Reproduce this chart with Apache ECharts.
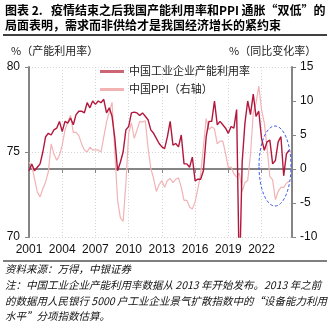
<!DOCTYPE html>
<html>
<head>
<meta charset="utf-8">
<script src="https://cdn.jsdelivr.net/npm/echarts@6/dist/echarts.min.js"></script>
<style>
html,body{margin:0;padding:0;background:#fff;}
#c{width:330px;height:325px;}
</style>
</head>
<body>
<div id="c"></div>
<script>
// ---- data ----
const years = [2001,2002,2003,2004,2005,2006,2007,2008,2009,2010,2011,2012,2013,2014,2015,2016,2017,2018,2019,2020,2021,2022,2023,2024];
const quarters = ['Q1','Q2','Q3','Q4'];
const categories = [];
years.forEach(y => quarters.forEach(q => categories.push(y + q)));
const yearTickLabels = ['2001','2004','2007','2010','2013','2016','2019','2022'];

// 中国工业企业产能利用率 (%), quarterly
const capacityUtil = [
  73.9, 74.3, 73.9, 74.1,
  74.3, 75.0, 75.9, 76.1,
  76.0, 76.3, 76.4, 76.8,
  76.2, 76.8, 76.7, 77.0,
  76.6, 77.2, 77.4, 77.4,
  77.3, 77.9, 77.6, 78.0,
  77.8, 78.0, 77.9, 78.1,
  77.3, 77.6, 77.1, 75.8,
  73.9, 74.4, 75.0, 76.3,
  76.5, 77.3, 77.35, 77.3,
  77.15, 77.3, 77.1, 76.9,
  76.3, 76.1, 75.8, 75.5,
  75.3, 75.2, 75.9, 76.8,
  75.4, 75.5, 75.3, 76.0,
  74.3, 74.3, 74.1, 74.7,
  73.3, 73.4, 73.4, 73.9,
  75.9, 76.8, 76.8, 78.0,
  76.6, 76.8, 76.6, 76.4,
  76.1, 76.5, 76.4, 77.5,
  67.3, 74.4, 76.7, 78.0,
  77.2, 78.4, 77.1, 77.4,
  75.8, 75.1, 75.6, 75.7,
  74.3, 74.5, 75.6, 75.9,
  73.6, 74.9, 75.1, null
];

// 中国PPI 同比 (%), quarterly
const ppi = [
  1.0, 0.5, -1.4, -3.4,
  -4.1, -2.9, -1.9, -0.4,
  3.7, 2.2, 1.3, 2.0,
  3.5, 5.7, 6.9, 7.9,
  5.4, 5.4, 4.9, 3.7,
  2.8, 2.5, 3.2, 2.8,
  2.8, 2.8, 2.5, 4.7,
  6.9, 8.4, 9.8, 2.5,
  -4.6, -7.2, -7.7, -2.1,
  5.2, 6.8, 4.5, 5.7,
  7.0, 6.9, 7.1, 3.1,
  0.1, -1.4, -3.3, -2.3,
  -1.7, -2.7, -1.7, -1.4,
  -2.0, -1.5, -1.3, -2.7,
  -4.6, -4.6, -5.6, -5.9,
  -4.8, -2.9, -0.8, 3.3,
  7.4, 5.8, 6.2, 5.9,
  3.7, 4.1, 4.1, 2.3,
  0.2, 0.3, -0.7, -1.2,
  -0.6, -3.3, -2.0, -1.7,
  2.1, 8.2, 9.7, 12.2,
  8.7, 6.8, 3.1, -1.1,
  -1.6, -4.5, -3.3, -2.7,
  -2.7, -2.1, -1.8, null
];

const seriesNames = ['中国工业企业产能利用率', '中国PPI（右轴）'];
const titleLines = ['图表 2.   疫情结束之后我国产能利用率和PPI 通胀“双低”的', '局面表明，需求而非供给才是我国经济增长的紧约束'];
const leftAxisName = '%（产能利用率）';
const rightAxisName = '%（同比变化率）';
const noteLines = [
  '资料来源：万得，中银证券',
  '注：中国工业企业产能利用率数据从 2013 年开始发布。2013 年之前',
  '的数据用人民银行 5000 户工业企业景气扩散指数中的“设备能力利用',
  '水平”分项指数估算。'
];

// ---- chart ----
const FONT = "'Liberation Sans', 'Noto Sans CJK SC', sans-serif";
const isYearTick = (idx, val) => yearTickLabels.includes(String(val).slice(0,4)) && String(val).endsWith('Q1');
const chart = echarts.init(document.getElementById('c'), null, {renderer: 'canvas'});
const darkColor = '#B3173C';
const lightColor = '#F2B3B5';
const axisGray = '#858585';

chart.setOption({
  animation: false,
  backgroundColor: '#fff',
  textStyle: {fontFamily: FONT},
  grid: {left: 29, right: 38, top: 67, bottom: 88, containLabel: false},
  legend: {
    orient: 'vertical', left: 95, top: 61, itemWidth: 24, itemHeight: 3, itemGap: 7,
    icon: 'rect',
    textStyle: {fontSize: 11, color: '#222', fontFamily: FONT},
    data: [
      {name: seriesNames[0], itemStyle: {color: '#CC6476'}},
      {name: seriesNames[1], itemStyle: {color: lightColor}}
    ]
  },
  xAxis: {
    type: 'category', data: categories, boundaryGap: false,
    axisLine: {lineStyle: {color: axisGray, width: 2}},
    axisTick: {show: true, interval: isYearTick, length: 4, lineStyle: {color: axisGray}},
    axisLabel: {interval: isYearTick, formatter: v => v.slice(0,4), fontSize: 12, color: '#111', margin: 7, fontFamily: FONT},
    splitLine: {show: true, interval: isYearTick, lineStyle: {color: '#d4d4d4', type: [1,2], width: 1}}
  },
  yAxis: [
    {
      type: 'value', min: 70, max: 80, interval: 5, position: 'left',
      axisLine: {show: true, lineStyle: {color: axisGray, width: 2}},
      axisTick: {show: true, length: 4, lineStyle: {color: axisGray}},
      axisLabel: {fontSize: 12, color: '#111', margin: 9, fontFamily: FONT},
      splitLine: {show: true, lineStyle: {color: '#d4d4d4', type: [1,2], width: 1}}
    },
    {
      type: 'value', min: -10, max: 15, interval: 5, position: 'right',
      axisLine: {show: true, lineStyle: {color: axisGray, width: 2}},
      axisTick: {show: true, length: 4, lineStyle: {color: axisGray}},
      axisLabel: {fontSize: 12, color: '#111', margin: 8, fontFamily: FONT},
      splitLine: {show: false}
    }
  ],
  series: [
    {
      name: seriesNames[1], type: 'line', yAxisIndex: 1, data: ppi,
      symbol: 'none', lineStyle: {color: lightColor, width: 1.2}, itemStyle: {color: lightColor}, z: 2
    },
    {
      name: seriesNames[0], type: 'line', yAxisIndex: 0, data: capacityUtil,
      symbol: 'none', lineStyle: {color: darkColor, width: 1.4}, itemStyle: {color: darkColor}, z: 3
    }
  ],
  graphic: [
    {type: 'text', left: 5, top: 4, style: {text: titleLines[0], font: "bold 12px 'Noto Sans CJK SC', sans-serif", fill: '#000'}},
    {type: 'text', left: 5, top: 19, style: {text: titleLines[1], font: "bold 12px 'Noto Sans CJK SC', sans-serif", fill: '#000'}},
    {type: 'line', shape: {x1: 3, y1: 35, x2: 327, y2: 35}, style: {stroke: '#000', lineWidth: 1.5}},
    {type: 'text', left: 11, top: 45, style: {text: leftAxisName, font: "11px 'Noto Sans CJK SC', sans-serif", fill: '#222'}},
    {type: 'text', left: 229, top: 45, style: {text: rightAxisName, font: "11px 'Noto Sans CJK SC', sans-serif", fill: '#222'}},
    {type: 'ellipse', shape: {cx: 275, cy: 166, rx: 16, ry: 40}, style: {fill: 'none', stroke: '#3d5ef0', lineWidth: 1, lineDash: [3, 2]}, z: 100},
    {type: 'line', shape: {x1: 3, y1: 261, x2: 327, y2: 261}, style: {stroke: '#000', lineWidth: 1.2}},
    {type: 'text', left: 5, top: 264, style: {text: noteLines[0], font: "italic 10.5px 'Noto Sans CJK SC', sans-serif", fill: '#111'}},
    {type: 'text', left: 5, top: 280, style: {text: noteLines[1], font: "italic 10.5px 'Noto Sans CJK SC', sans-serif", fill: '#111'}},
    {type: 'text', left: 5, top: 296, style: {text: noteLines[2], font: "italic 10.5px 'Noto Sans CJK SC', sans-serif", fill: '#111'}},
    {type: 'text', left: 5, top: 311, style: {text: noteLines[3], font: "italic 10.5px 'Noto Sans CJK SC', sans-serif", fill: '#111'}}
  ]
});
</script>
</body>
</html>
